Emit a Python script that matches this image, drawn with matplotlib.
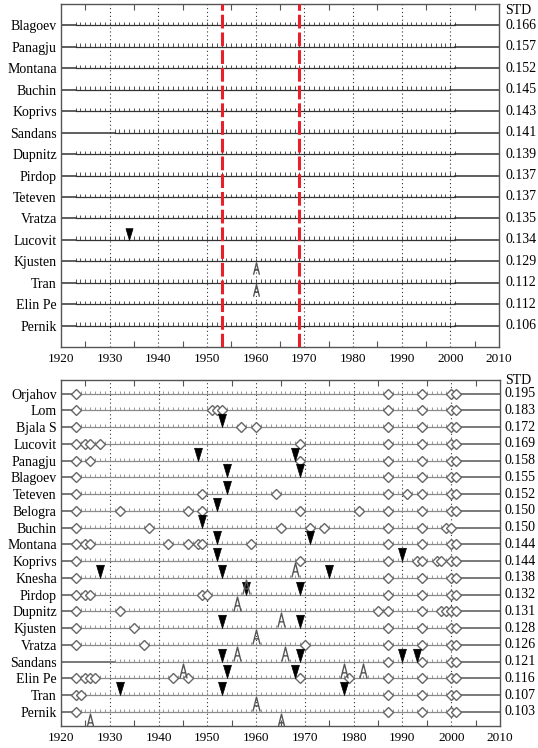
import numpy as np
import matplotlib.pyplot as plt
from matplotlib.path import Path
from matplotlib.transforms import blended_transform_factory

plt.rcParams['font.family'] = ['Liberation Serif', 'DejaVu Serif']

# upper panel: stations, STD, record span, detected breaks
top_names = ['Blagoev', 'Panagju', 'Montana', 'Buchin', 'Koprivs', 'Sandans', 'Dupnitz',
             'Pirdop', 'Teteven', 'Vratza', 'Lucovit', 'Kjusten', 'Tran', 'Elin Pe', 'Pernik']
top_std = ['0.166', '0.157', '0.152', '0.145', '0.143', '0.141', '0.139', '0.137',
           '0.137', '0.135', '0.134', '0.129', '0.112', '0.112', '0.106']
top_start = [1923, 1923, 1923, 1923, 1923, 1931, 1923, 1923, 1923, 1923, 1923, 1923, 1923, 1923, 1923]
top_end = [2001, 2001, 2001, 2000, 2001, 2001, 2001, 2001, 2001, 2001, 2001, 2001, 2001, 2001, 2001]
top_down = [[], [], [], [], [], [], [], [], [], [], [1934], [], [], [], []]
top_up = [[], [], [], [], [], [], [], [], [], [], [], [1960], [1960], [], []]
top_diam = [[] for _ in top_names]
red_years = [1953, 1969]

# lower panel
bot_names = ['Orjahov', 'Lom', 'Bjala S', 'Lucovit', 'Panagju', 'Blagoev', 'Teteven', 'Belogra',
             'Buchin', 'Montana', 'Koprivs', 'Knesha', 'Pirdop', 'Dupnitz', 'Kjusten', 'Vratza',
             'Sandans', 'Elin Pe', 'Tran', 'Pernik']
bot_std = ['0.195', '0.183', '0.172', '0.169', '0.158', '0.155', '0.152', '0.150', '0.150', '0.144',
           '0.144', '0.138', '0.132', '0.131', '0.128', '0.126', '0.121', '0.116', '0.107', '0.103']
bot_start = [1923] * 16 + [1931] + [1923] * 3
bot_end = [2001] * 8 + [2000] + [2001] * 11
bot_diam = [
    [1923, 1987, 1994, 2000, 2001],
    [1923, 1951, 1952, 1953, 1987, 1994, 2000, 2001],
    [1923, 1957, 1960, 1987, 1994, 2000, 2001],
    [1923, 1925, 1926, 1928, 1969, 1987, 1994, 2000, 2001],
    [1923, 1926, 1969, 1987, 1994, 2000, 2001],
    [1923, 1987, 1994, 2000, 2001],
    [1923, 1949, 1964, 1987, 1991, 1994, 2000, 2001],
    [1923, 1932, 1946, 1949, 1969, 1981, 1987, 1994, 2000, 2001],
    [1923, 1938, 1965, 1971, 1974, 1987, 1994, 1999, 2000],
    [1923, 1925, 1926, 1942, 1946, 1948, 1949, 1959, 1987, 1994, 2000, 2001],
    [1923, 1969, 1987, 1993, 1994, 1997, 1998, 2000, 2001],
    [1923, 1987, 1994, 2000, 2001],
    [1923, 1925, 1926, 1949, 1950, 1987, 1994, 2000, 2001],
    [1923, 1932, 1985, 1987, 1994, 1998, 1999, 2000, 2001],
    [1923, 1935, 1987, 1994, 2000, 2001],
    [1923, 1937, 1970, 1987, 1994, 2000, 2001],
    [1987, 1994, 2000, 2001],
    [1923, 1925, 1926, 1927, 1943, 1946, 1969, 1979, 1987, 1994, 2000, 2001],
    [1923, 1924, 1987, 1994, 2000, 2001],
    [1923, 1987, 1994, 2000, 2001],
]
bot_down = [[], [], [1953], [], [1948, 1968], [1954, 1969], [1954], [1952], [1949], [1952, 1971],
            [1952, 1990], [1928, 1953, 1975], [1958, 1969], [], [1953, 1969], [],
            [1953, 1969, 1990, 1993], [1954, 1968], [1932, 1953, 1978], []]
bot_up = [[], [], [], [], [], [], [], [], [], [], [1968], [1958], [1956], [1965], [1960],
          [1956, 1966], [1945, 1978, 1982], [], [1960], [1926, 1965]]

# marker shapes: tip / peak sits on the station line
tri_down = Path([(0, 0), (-0.6, 2), (0.6, 2), (0, 0)],
                [Path.MOVETO, Path.LINETO, Path.LINETO, Path.CLOSEPOLY])
peak_up = Path([(-0.45, -2), (0, -0.2), (0.45, -2), (-0.26, -1.3), (0.26, -1.3)],
               [Path.MOVETO, Path.LINETO, Path.LINETO, Path.MOVETO, Path.LINETO])


def draw_panel(ax, names, std, starts, ends, down, up, diam, tick_h, ms, ms_up,
               line_in, line_out, ylim, std_x, std_y):
    rows = np.arange(1, len(names) + 1)
    for r, s, e in zip(rows, starts, ends):
        ax.plot([1920, s], [r, r], color=line_out, lw=1.1, zorder=2)
        ax.plot([s, e], [r, r], color=line_in, lw=0.9, zorder=2)
        ax.plot([e, 2010], [r, r], color=line_out, lw=1.1, zorder=2)
        yrs = np.arange(s, e + 1)
        ax.vlines(yrs, r - tick_h, r, color=line_in, lw=0.6, zorder=2)
    for r, d in zip(rows, diam):
        if d:
            ax.plot(d, [r] * len(d), ls='none', marker='D', ms=4.8, mfc='white',
                    mec='#666666', mew=1.0, zorder=4)
    for r, d in zip(rows, down):
        if d:
            ax.plot(d, [r] * len(d), ls='none', marker=tri_down, ms=ms, mfc='black',
                    mec='black', mew=0.5, zorder=5)
    for r, d in zip(rows, up):
        if d:
            ax.plot(d, [r] * len(d), ls='none', marker=peak_up, ms=ms_up, mfc='none',
                    mec='#555555', mew=1.0, zorder=5)

    for g in range(1930, 2001, 10):
        ax.axvline(g, color='#333333', lw=0.8, ls=(0, (1, 2.5)), zorder=1)

    ax.set_xlim(1920, 2010)
    ax.set_ylim(*ylim)
    ax.set_yticks(rows)
    ax.set_yticklabels(names, fontsize=10)
    ax.tick_params(axis='y', length=0, pad=3)
    ax.set_xticks(range(1920, 2011, 10))
    ax.set_xticks(range(1925, 2010, 10), minor=True)
    ax.tick_params(axis='x', which='major', length=0, labelsize=9.5, pad=4)
    ax.tick_params(axis='x', which='minor', direction='in', top=True, bottom=True,
                   length=4, width=0.8, color='#555555')
    for sp in ax.spines.values():
        sp.set_color('#555555')
        sp.set_linewidth(1.0)

    tr = blended_transform_factory(ax.transAxes, ax.transData)
    ax.text(std_x, std_y, 'STD', transform=tr, fontsize=10, va='center', ha='left')
    for r, v in zip(rows, std):
        ax.text(std_x, r, v, transform=tr, fontsize=10, va='center', ha='left')


fig = plt.figure(figsize=(5.38, 7.48), dpi=100)

ax1 = fig.add_axes([61 / 538, 1 - 347 / 748, 438 / 538, 343 / 748])
draw_panel(ax1, top_names, top_std, top_start, top_end, top_down, top_up, top_diam,
           0.16, 17, 19, '#333333', '#333333', (16, 0), 1.014, 0.28)
for yr in red_years:
    ax1.axvline(yr, color='#e8202a', lw=2.2, ls=(0, (4.5, 1.3)), zorder=6)

ax2 = fig.add_axes([61 / 538, 1 - 726 / 748, 439 / 538, 346.5 / 748])
draw_panel(ax2, bot_names, bot_std, bot_start, bot_end, bot_down, bot_up, bot_diam,
           0.18, 19, 23, '#8a8a8a', '#555555', (20.85, 0.15), 1.011, 0.2)

fig.savefig('out.png', dpi=100)
